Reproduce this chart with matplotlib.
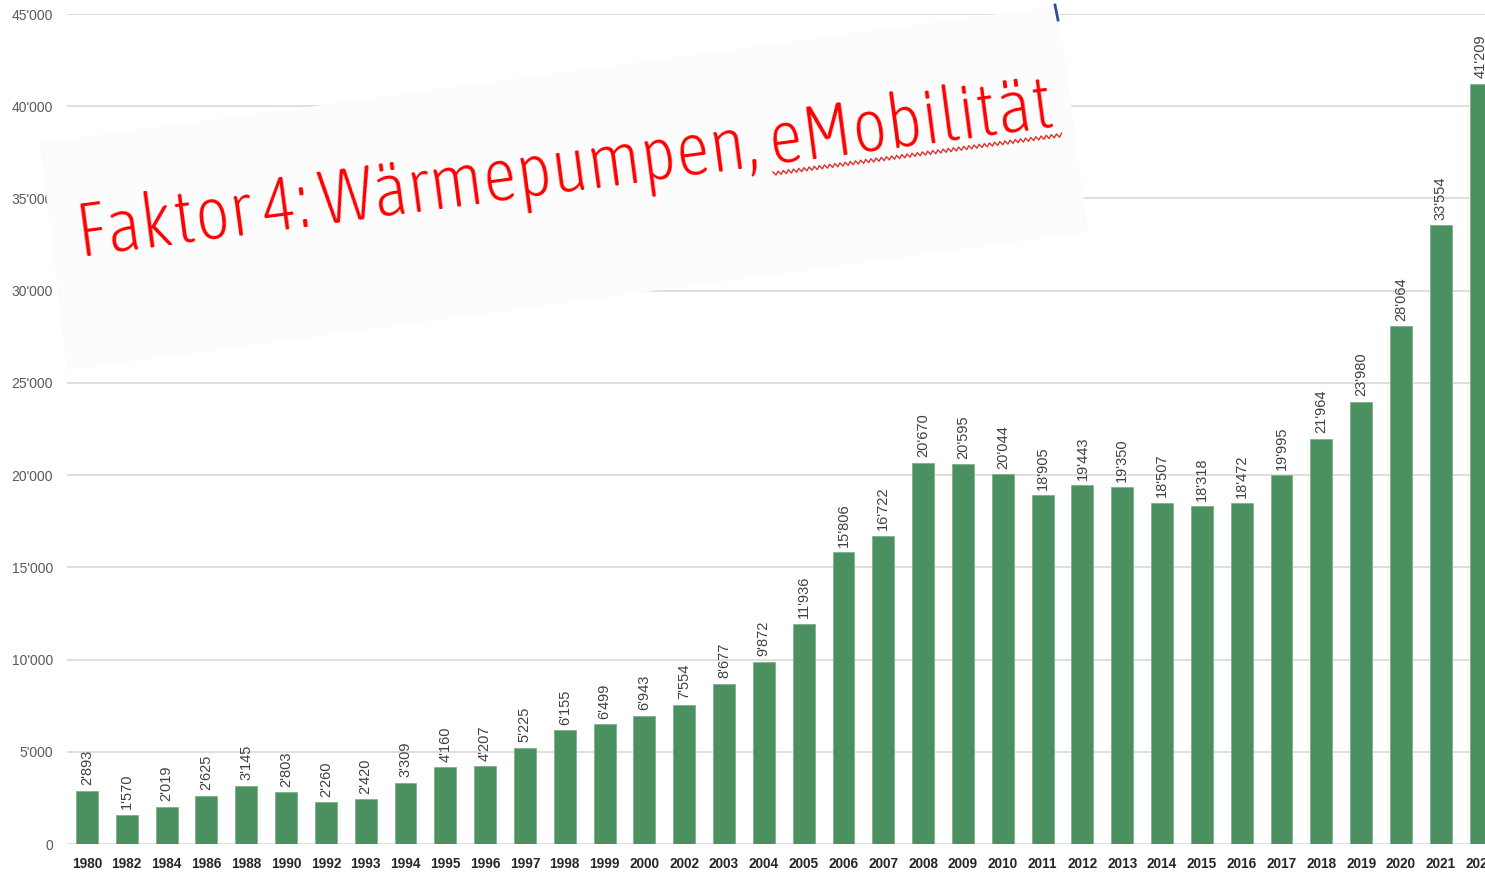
"""
Waermepumpen-Absatz Schweiz 1980-2022 (Balkendiagramm) mit schraegem
Overlay-Titel "Faktor 4: Waermepumpen, eMobilitaet".
Speichert out.png (1485 x 872 px).
"""

import numpy as np
import matplotlib
matplotlib.use("Agg")
import matplotlib.pyplot as plt
import matplotlib.font_manager as fm
from matplotlib.patches import Polygon
from matplotlib.lines import Line2D

# --- 1. Daten ---
YEARS = ["1980", "1982", "1984", "1986", "1988", "1990", "1992", "1993", "1994",
         "1995", "1996", "1997", "1998", "1999", "2000", "2002", "2003", "2004",
         "2005", "2006", "2007", "2008", "2009", "2010", "2011", "2012", "2013",
         "2014", "2015", "2016", "2017", "2018", "2019", "2020", "2021", "2022"]
UNITS = [2893, 1570, 2019, 2625, 3145, 2803, 2260, 2420, 3309,
         4160, 4207, 5225, 6155, 6499, 6943, 7554, 8677, 9872,
         11936, 15806, 16722, 20670, 20595, 20044, 18905, 19443, 19350,
         18507, 18318, 18472, 19995, 21964, 23980, 28064, 33554, 41209]
Y_TICKS = list(range(0, 45001, 5000))
TITLE = "Faktor 4: Wärmepumpen, eMobilität"
TITLE_TAIL = "eMobilität"

# --- 2. Layout / Stil ---
W, H = 1485, 872
BAR_GREEN = "#4b9160"
GRID = "#d9d9d9"
ANGLE = 7.6


def fmt(v):
    return f"{v:,}".replace(",", "'")


def px(x, y):
    """Pixel (von oben links) -> Figure-Koordinaten."""
    return (x / W, 1 - y / H)


def pick_title_font():
    cands = []
    for f in fm.fontManager.ttflist:
        fn = f.fname.lower()
        narrow = ("narrow" in f.name.lower() or "condensed" in f.name.lower()
                  or "condensed" in str(f.stretch).lower()
                  or "condensed" in fn or "narrow" in fn)
        if narrow and not any(k in fn for k in ("bold", "italic", "oblique")):
            cands.append(f)
    if cands:
        cands.sort(key=lambda f: ("light" not in f.fname.lower(), f.fname))
        return fm.FontProperties(fname=cands[0].fname)
    return fm.FontProperties(family="Open Sans")


fig = plt.figure(figsize=(W / 100, H / 100), dpi=100)
ax = fig.add_axes([67 / W, 28 / H, 1 - 67 / W, (844 - 14) / H])

x = np.arange(len(YEARS))
ax.bar(x, UNITS, width=0.55, color=BAR_GREEN, edgecolor="#7fb08f",
       linewidth=0.6, zorder=2)

for xi, v in zip(x, UNITS):
    ax.annotate(fmt(v), (xi, v), xytext=(0, 4), textcoords="offset points",
                rotation=90, ha="center", va="bottom", fontsize=10.5,
                family="Liberation Sans", color="#404040", zorder=3)

ax.set_xlim(-0.5, 35.11)
ax.set_ylim(0, 45000)
ax.set_yticks(Y_TICKS)
ax.set_yticklabels([fmt(t) for t in Y_TICKS])
ax.set_xticks(x)
ax.set_xticklabels(YEARS)
ax.yaxis.grid(True, color=GRID, linewidth=1.2, zorder=0)
ax.set_axisbelow(True)
for s in ax.spines.values():
    s.set_visible(False)
ax.tick_params(axis="y", length=0, pad=10, labelsize=10, labelcolor="#595959")
ax.tick_params(axis="x", length=0, pad=9, labelsize=9.8, labelcolor="#262626")
for lab in ax.get_yticklabels():
    lab.set_family("Liberation Sans")
for lab in ax.get_xticklabels():
    lab.set_family("Liberation Sans")
    lab.set_fontweight("bold")

# --- 3. Overlay-Kasten (fast weiss, gedreht) ---
box = Polygon([px(40, 143), px(1058, 6), px(1088, 232), px(67, 370)],
              closed=True, transform=fig.transFigure, facecolor="#fcfcfc",
              edgecolor="none", zorder=1)
fig.add_artist(box)

# kleiner blauer Strich oben
fig.add_artist(Line2D([1055 / W, 1058 / W], [1 - 5 / H, 1 - 20 / H],
                      color="#2f4f8f", linewidth=2.0, transform=fig.transFigure,
                      zorder=2))

# --- 4. Titel, Breite auf Ziel angepasst ---
fp = pick_title_font()
renderer = fig.canvas.get_renderer()
TARGET_LEN = 985.0
x0, y0 = 80.0, H - 257.0


def text_width(s, size):
    t = fig.text(0, 0, s, fontproperties=fp, fontsize=size)
    w = t.get_window_extent(renderer).width
    t.remove()
    return w


fs = 100 * TARGET_LEN / text_width(TITLE, 100)
fig.text(x0 / W, y0 / H, TITLE, fontproperties=fp, fontsize=fs, color="#ff0000",
         rotation=ANGLE, rotation_mode="anchor", ha="left", va="baseline",
         transform=fig.transFigure, zorder=3)

# rote Wellenlinie unter "eMobilitaet"
full_w = text_width(TITLE, fs)
s0 = full_w - text_width(TITLE_TAIL, fs)
a = np.deg2rad(ANGLE)
t = np.arange(s0, full_w + 6, 2.6)
off = -9 + 1.8 * (-1) ** np.arange(len(t))
xs = x0 + t * np.cos(a) - off * np.sin(a)
ys = y0 + t * np.sin(a) + off * np.cos(a)
fig.add_artist(Line2D(xs / W, ys / H, color="#e03030", linewidth=1.0,
                      transform=fig.transFigure, zorder=3))

fig.savefig("out.png", dpi=100)
